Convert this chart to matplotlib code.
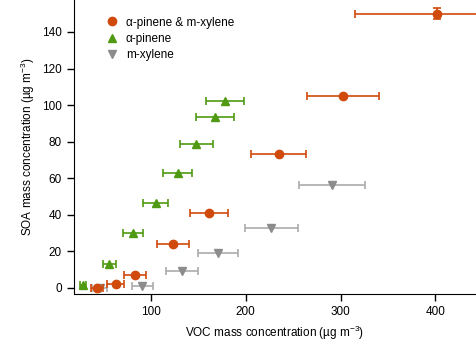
import numpy as np
import matplotlib.pyplot as plt

plt.rcParams["font.family"] = ["Liberation Sans", "DejaVu Sans"]
plt.rcParams["mathtext.default"] = "regular"

# alpha-pinene & m-xylene mixture
mix_voc = [43, 63, 83, 123, 161, 235, 303, 402]
mix_voc_err = [6, 9, 12, 17, 20, 29, 38, 87]
mix_soa = [0, 2.2, 7, 24, 41, 73, 105, 150]
mix_soa_err = [0, 0, 0, 0, 0, 0, 0, 3]

# alpha-pinene alone
ap_voc = [28, 56, 81, 105, 128, 148, 168, 178]
ap_voc_err = [3, 7, 11, 13, 15, 17, 20, 20]
ap_soa = [1.6, 13, 30, 46.5, 63, 78.5, 93.5, 102]

# m-xylene alone
mx_voc = [46, 91, 133, 171, 227, 291]
mx_voc_err = [8, 11, 17, 21, 28, 35]
mx_soa = [0, 1, 9.5, 19, 33, 56.5]

c_mix = "#D04A0C"
c_ap = "#4F9A12"
c_mx = "#8C8C8C"

fig = plt.figure(figsize=(4.76, 3.43), dpi=100)
ax = fig.add_axes([0.155, 0.143, 0.845, 0.857])

ax.errorbar(mx_voc, mx_soa, xerr=mx_voc_err, fmt="v", color=c_mx, ecolor="#ABABAB",
            ms=5.5, capsize=3, elinewidth=1.2, capthick=1.2, label="m-xylene", zorder=2)
ax.errorbar(ap_voc, ap_soa, xerr=ap_voc_err, fmt="^", color=c_ap, ecolor=c_ap,
            ms=5.5, capsize=3, elinewidth=1.2, capthick=1.2, label="α-pinene", zorder=3)
mix = ax.errorbar(mix_voc, mix_soa, xerr=mix_voc_err, yerr=mix_soa_err, fmt="o",
                  color=c_mix, ecolor=c_mix, ms=6, capsize=3, elinewidth=1.2,
                  capthick=1.2, label="α-pinene & m-xylene", zorder=4)
mix[0].set_clip_on(False)

ax.set_xlim(18.5, 443)
ax.set_ylim(-3.3, 157.5)
ax.set_xticks([100, 200, 300, 400])
ax.set_yticks(np.arange(0, 141, 20))
ax.tick_params(direction="out", length=5, labelsize=8.5, width=1)
for s in ["top", "right"]:
    ax.spines[s].set_visible(False)

ax.set_xlabel(r"VOC mass concentration (µg m$^{-3}$)", fontsize=8.5)
ax.set_ylabel(r"SOA mass concentration (µg m$^{-3}$)", fontsize=8.5)

h, l = ax.get_legend_handles_labels()
h = [x[0] for x in h][::-1]
l = l[::-1]
ax.legend(h, l, loc="upper left", bbox_to_anchor=(0.05, 0.98), frameon=False,
          fontsize=8.5, handlelength=1.2, handletextpad=0.6, labelspacing=0.35)

fig.savefig("out.png", dpi=100)
